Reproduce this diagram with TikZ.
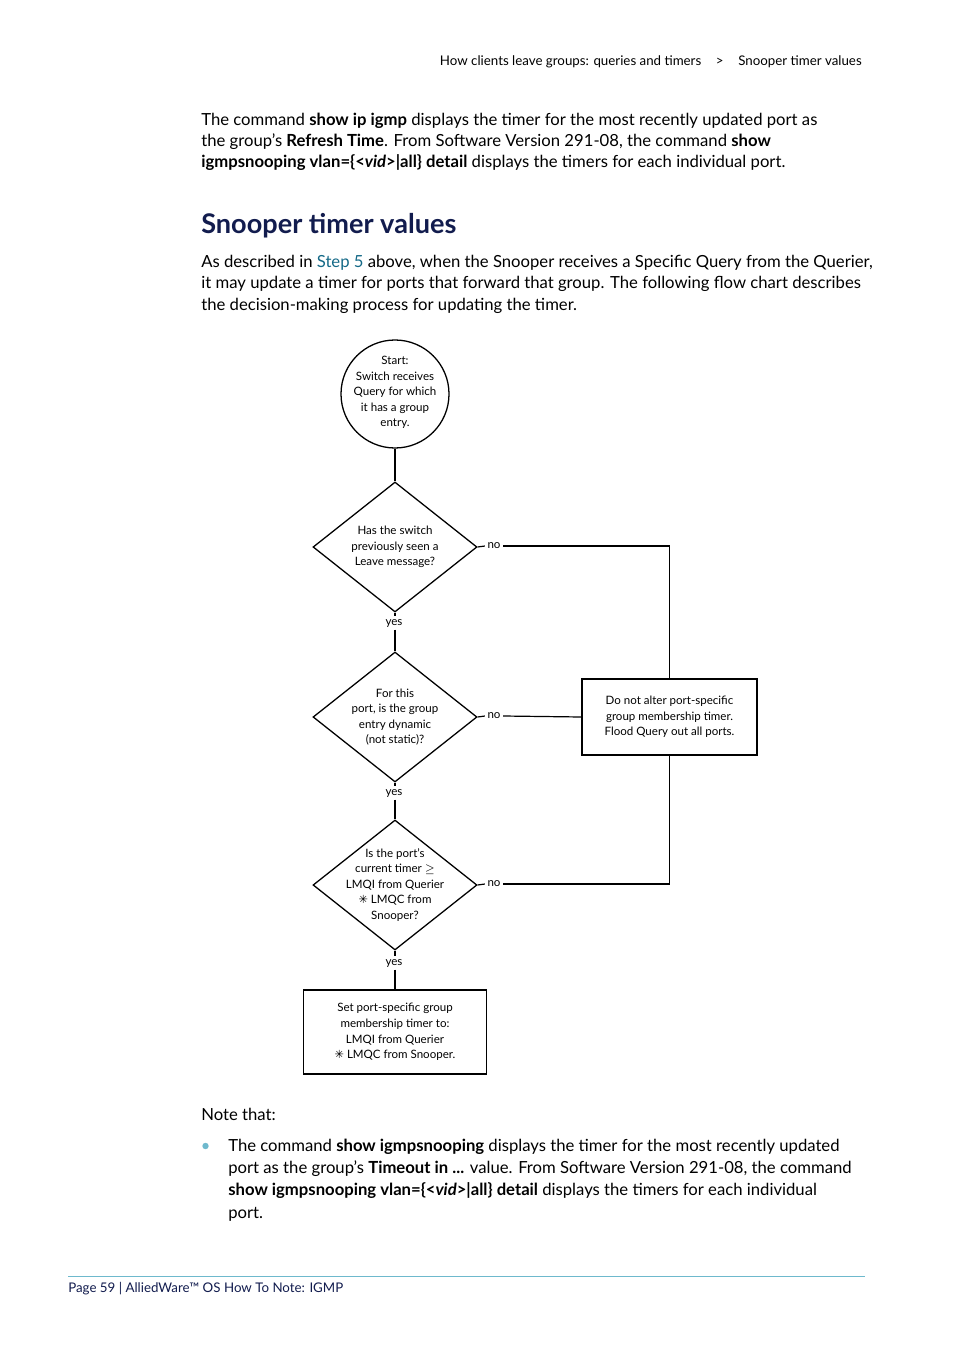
\documentclass[tikz,border=0pt]{standalone}
\usepackage{fontspec}
\setmainfont{Lato}
\newfontfamily\symfont{DejaVu Sans}
\usetikzlibrary{shapes.geometric,positioning}
\definecolor{navy}{RGB}{18,28,78}
\definecolor{steplink}{RGB}{20,105,135}
\definecolor{rule}{RGB}{110,185,205}
\newcommand{\pxu}{0.6237pt}
\newcommand{\tms}{{\symfont\scriptsize ✳}}
\tikzset{
  para/.style={anchor=base west, align=left, inner sep=0pt, font=\fontsize{10.4}{13.1}\selectfont},
  flowline/.style={draw, line width=0.75pt},
  startnode/.style={circle, draw, line width=0.8pt, minimum size=108*\pxu, inner sep=0pt},
  query/.style={diamond, draw, line width=0.8pt, minimum width=164*\pxu, minimum height=130*\pxu, inner sep=0pt},
  action/.style={rectangle, draw, line width=0.8pt, inner sep=0pt},
  flowtext/.style={align=center, inner sep=0pt, font=\fontsize{7.2}{9.7}\selectfont},
  answer/.style={inner sep=1.5pt, font=\fontsize{7.2}{9}\selectfont}
}
\begin{document}
\begin{tikzpicture}[x=0.6237pt, y=-0.6237pt]
  \useasboundingbox (0,0) rectangle (954,1350);
  % Kopf und Text
  \node[anchor=base east, inner sep=0pt, font=\fontsize{8.3}{10}\selectfont] (header) at (862,66)
    {How clients leave groups: queries and timers\hspace{1.1em}>\hspace{1.1em}Snooper timer values};
  \node[para] (intro) at (201,168)
    {The command \textbf{show ip igmp} displays the timer for the most recently updated port as\\
     the group's \textbf{Refresh Time}. From Software Version 291-08, the command \textbf{show}\\
     \textbf{igmpsnooping vlan=\{<\textit{vid}>|all\} detail} displays the timers for each individual port.};
  \node[anchor=base west, inner sep=0pt, font=\fontsize{16.9}{19}\selectfont\bfseries, text=navy] (title) at (201,234)
    {Snooper timer values};
  \node[para] (desc) at (201,310)
    {As described in \textcolor{steplink}{Step 5} above, when the Snooper receives a Specific Query from the Querier,\\
     it may update a timer for ports that forward that group. The following flow chart describes\\
     the decision-making process for updating the timer.};

  % Ablauf
  \node[startnode] (start) at (395,394) {};
  \node[flowtext, yshift=1pt] (starttext) at (start) {Start:\\Switch receives\\Query for which\\it has a group\\entry.};
  \node[query] (leave) at (395,547) {};
  \node[flowtext] (leavetext) at (leave) {Has the switch\\previously seen a\\Leave message?};
  \node[query] (dynamic) at (395,717) {};
  \node[flowtext] (dynamictext) at (dynamic) {For this\\port, is the group\\entry dynamic\\(not static)?};
  \node[query] (timer) at (395,885) {};
  \node[flowtext] (timertext) at (timer) {Is the port's\\current timer $\geq$\\LMQI from Querier\\\tms\ LMQC from\\Snooper?};
  \node[action, minimum width=175*\pxu, minimum height=76*\pxu] (keep) at (669.5,717) {};
  \node[flowtext] (keeptext) at (keep) {Do not alter port-specific\\group membership timer.\\Flood Query out all ports.};
  \node[action, minimum width=183*\pxu, minimum height=84*\pxu] (set) at (395,1032) {};
  \node[flowtext] (settext) at (set) {Set port-specific group\\membership timer to:\\LMQI from Querier\\\tms\ LMQC from Snooper.};

  \node[answer, anchor=base] (yes1) at (394,625) {yes};
  \node[answer, anchor=base] (yes2) at (394,795) {yes};
  \node[answer, anchor=base] (yes3) at (394,965) {yes};
  \node[answer] (no1) at (494,546) {no};
  \node[answer] (no2) at (494,716) {no};
  \node[answer] (no3) at (494,884) {no};

  \draw[flowline] (start) -- (leave);
  \draw[flowline] (leave.south) -- (leave.south |- yes1.north);
  \draw[flowline] (dynamic.north |- yes1.south) -- (dynamic.north);
  \draw[flowline] (dynamic.south) -- (dynamic.south |- yes2.north);
  \draw[flowline] (timer.north |- yes2.south) -- (timer.north);
  \draw[flowline] (timer.south) -- (timer.south |- yes3.north);
  \draw[flowline] (set.north |- yes3.south) -- (set.north);
  \draw[flowline] (leave.east) -- (no1.west);
  \draw[flowline] (dynamic.east) -- (no2.west);
  \draw[flowline] (timer.east) -- (no3.west);
  \draw[flowline] (no1.east) -| (keep.north);
  \draw[flowline] (no2.east) -- (keep.west);
  \draw[flowline] (no3.east) -| (keep.south);

  % Hinweis
  \node[para] (note) at (201,1120) {Note that:};
  \fill[rule] (205.5,1146) circle (3.2);
  \node[para, font=\fontsize{10.4}{13.9}\selectfont] (bullet) at (228,1218)
    {The command \textbf{show igmpsnooping} displays the timer for the most recently updated\\
     port as the group's \textbf{Timeout in ...} value. From Software Version 291-08, the command\\
     \textbf{show igmpsnooping vlan=\{<\textit{vid}>|all\} detail} displays the timers for each individual\\
     port.};

  % Fusszeile
  \draw[rule, line width=0.6pt] (68,1276) coordinate (rulel) -- (865,1276) coordinate (ruler);
  \node[anchor=base west, inner sep=0pt, text=navy, font=\fontsize{8.3}{10}\selectfont] (footer) at (68,1292)
    {Page 59 | AlliedWare™ OS How To Note: IGMP};
\end{tikzpicture}
\end{document}
